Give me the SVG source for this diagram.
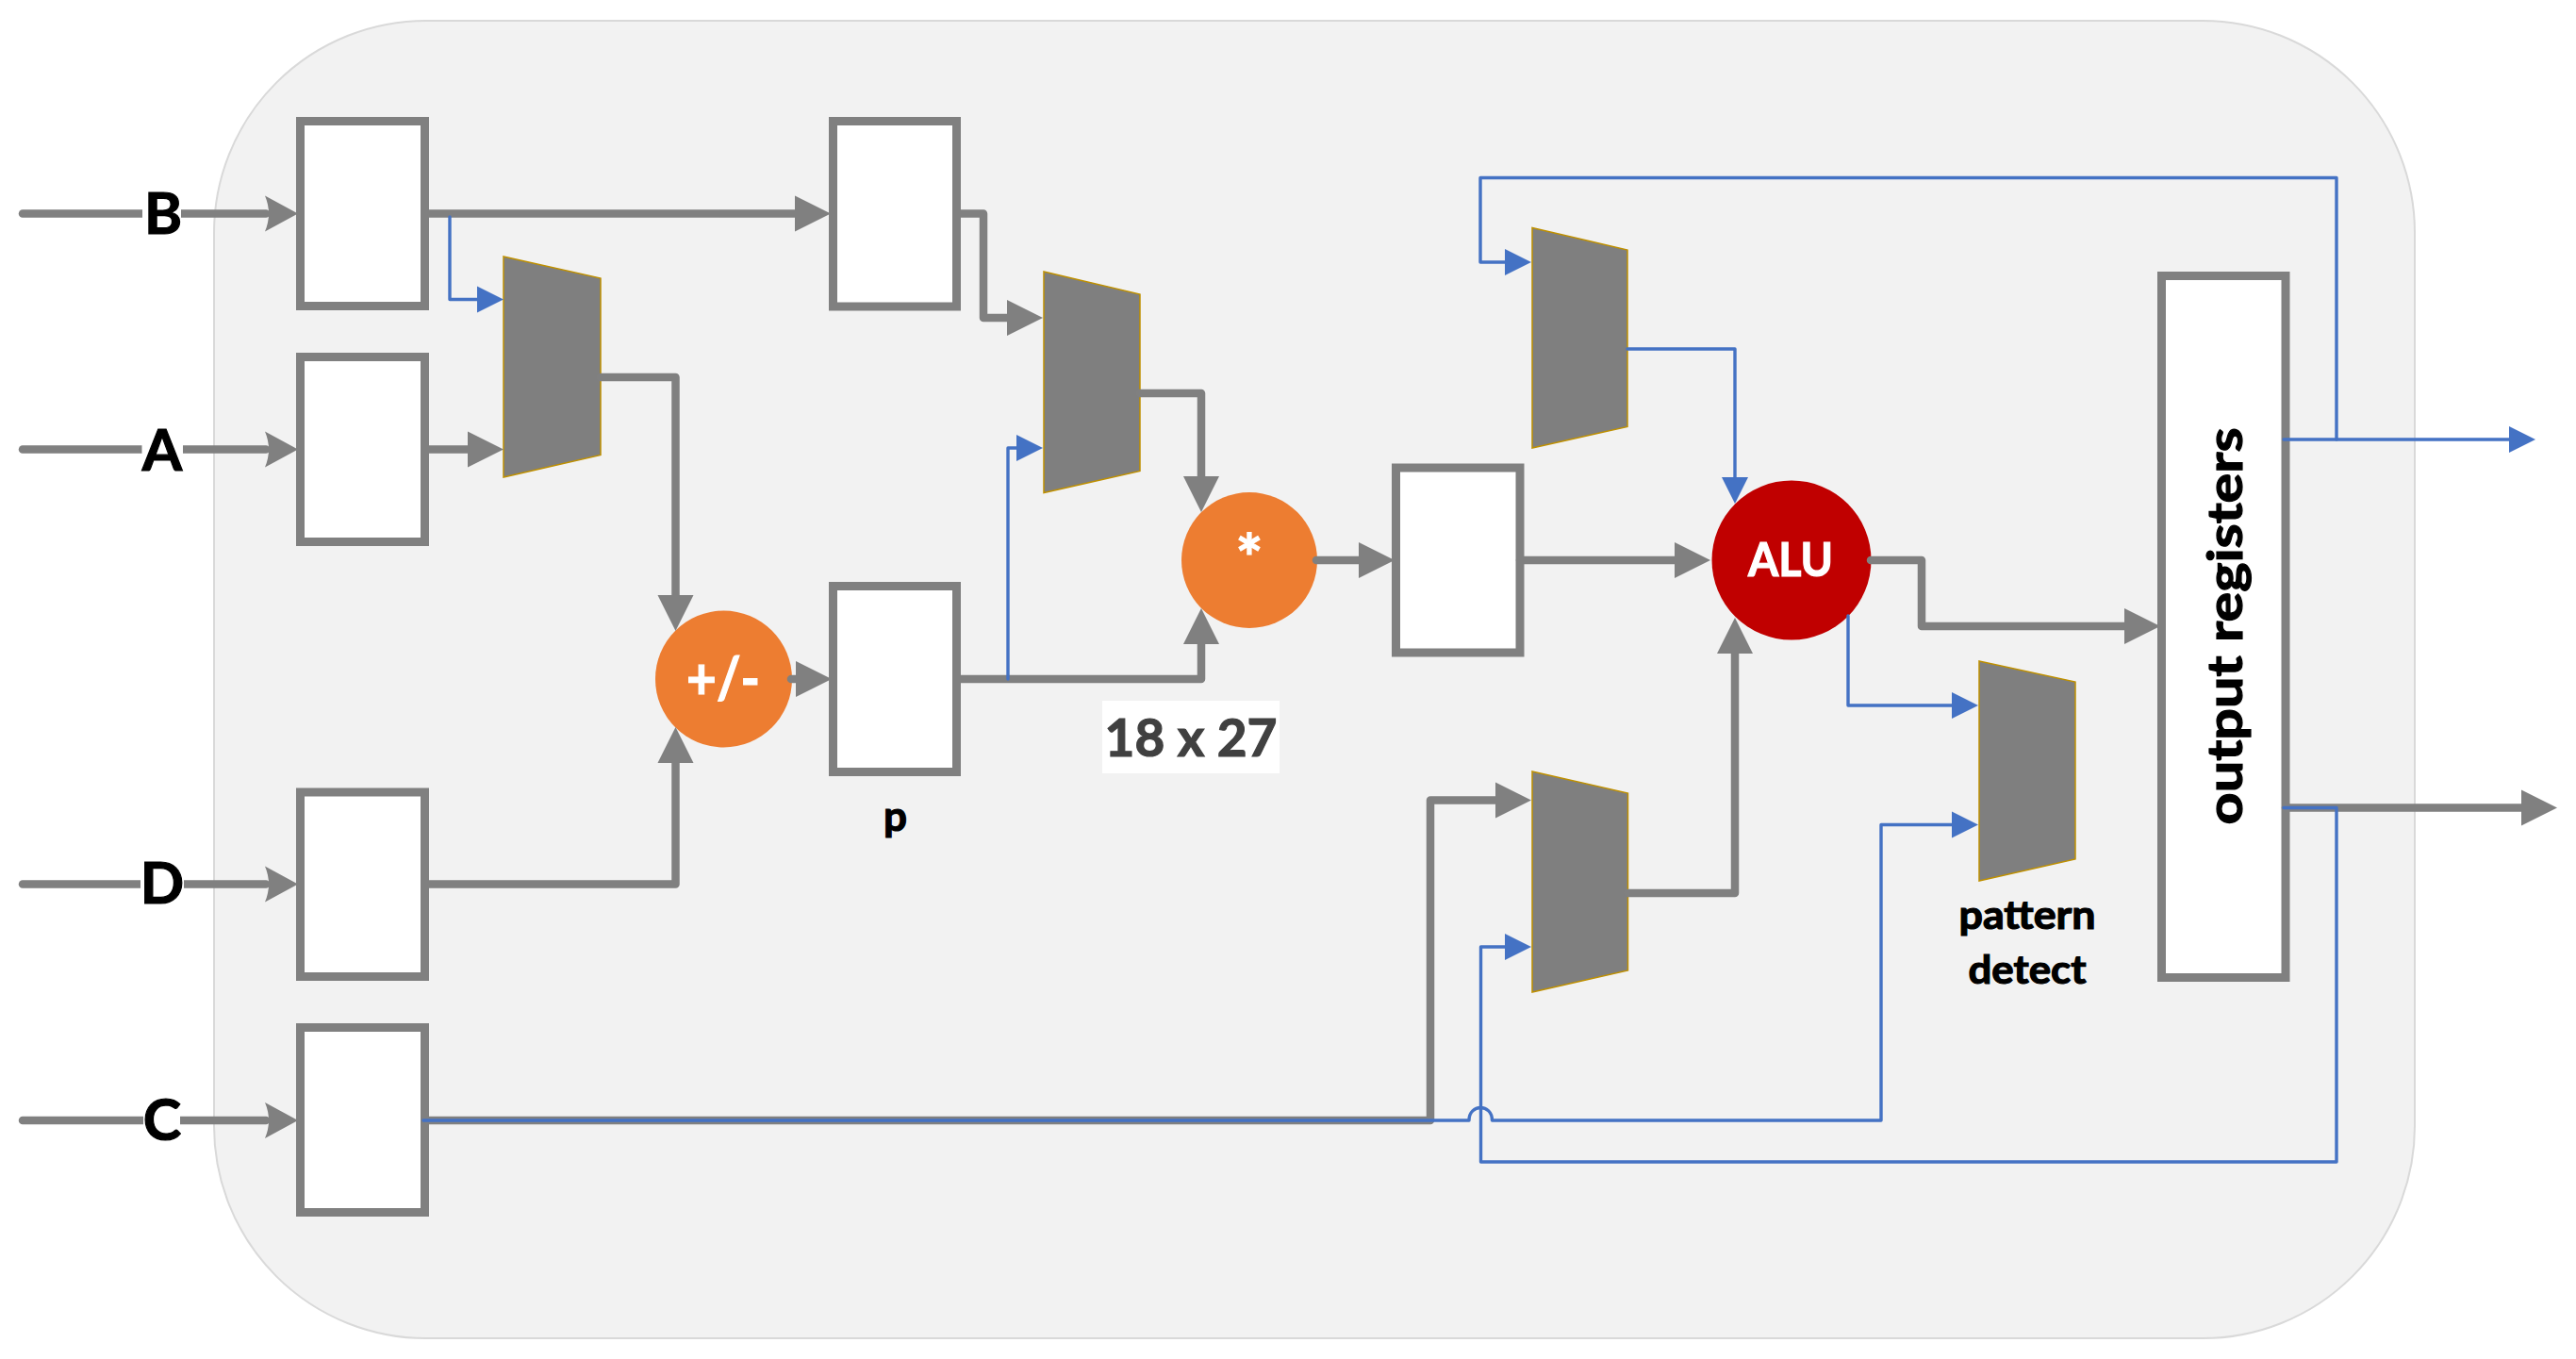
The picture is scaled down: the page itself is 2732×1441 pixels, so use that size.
<svg xmlns="http://www.w3.org/2000/svg" width="2732" height="1441" viewBox="0 0 2732 1441">
<style>
text{font-family:"Lato","Carlito","Liberation Sans",sans-serif;font-weight:700;fill:#000;stroke:#000;stroke-width:1.2;text-anchor:middle}
text.white{fill:#fff;stroke:#fff}
text.dark{fill:#404040;stroke:#404040}
.reg{fill:#fff;stroke:#808080;stroke-width:9}
.mux{fill:#7f7f7f;stroke:#bf9000;stroke-width:1.5}
.g{fill:none;stroke:#808080;stroke-width:8.5;stroke-linejoin:round;stroke-linecap:round}
.gm{marker-end:url(#ag)}
.gi{marker-end:url(#ai)}
.b{fill:none;stroke:#4472c4;stroke-width:3.4;stroke-linejoin:round;stroke-linecap:round}
.bm{marker-end:url(#ab)}
.op{fill:#ed7d31}
.gap{fill:#fff}
.in{font-size:61px}
</style>
<defs>
<marker id="ag" markerUnits="userSpaceOnUse" markerWidth="40" markerHeight="40" refX="1" refY="20" orient="auto" viewBox="0 0 40 40"><path d="M0,1 L38,20 L0,39z" fill="#808080"/></marker>
<marker id="ai" markerUnits="userSpaceOnUse" markerWidth="40" markerHeight="40" refX="1" refY="20" orient="auto" viewBox="0 0 40 40"><path d="M0,1 L35,20 L0,39 Q8,20 0,1z" fill="#808080"/></marker>
<marker id="ab" markerUnits="userSpaceOnUse" markerWidth="30" markerHeight="30" refX="1" refY="15" orient="auto" viewBox="0 0 30 30"><path d="M0,1 L28,15 L0,29z" fill="#4472c4"/></marker>
</defs>
<rect id="panel" x="227" y="22" width="2334" height="1397" rx="225" ry="225" fill="#f2f2f2" stroke="#d9d9d9" stroke-width="2"/>
<g id="reg-B"><rect class="reg" x="318.5" y="128.5" width="132" height="196"/></g>
<g id="reg-A"><rect class="reg" x="318.5" y="378.5" width="132" height="196"/></g>
<g id="reg-D"><rect class="reg" x="318.5" y="840" width="132" height="195.5"/></g>
<g id="reg-C"><rect class="reg" x="318.5" y="1089.5" width="132" height="196"/></g>
<g id="reg-B2"><rect class="reg" x="883.5" y="128.5" width="131" height="196.5"/></g>
<g id="reg-P"><rect class="reg" x="883.5" y="621.5" width="131" height="197"/></g>
<g id="reg-M"><rect class="reg" x="1480.5" y="496" width="131.5" height="196"/></g>
<g id="mux-1"><path class="mux" d="M534,272 L637,295 V482.5 L534,506z"/></g>
<g id="mux-2"><path class="mux" d="M1107,288 L1209,312 V499.5 L1107,522.5z"/></g>
<g id="mux-3"><path class="mux" d="M1625,241.5 L1726,265 V452.5 L1625,475z"/></g>
<g id="mux-4"><path class="mux" d="M1625,818 L1726.5,841 V1029 L1625,1052z"/></g>
<g id="mux-5"><path class="mux" d="M2099,701 L2201,723 V911 L2099,934z"/></g>
<g id="adder"><circle class="op" cx="767.5" cy="720" r="72.5"/><text class="white" x="767" y="741" font-size="62" textLength="78" lengthAdjust="spacingAndGlyphs">+/-</text></g>
<g id="multiplier"><circle class="op" cx="1325" cy="594" r="72"/><text class="white" x="1325" y="617" font-size="68">*</text></g>
<g id="alu"><circle cx="1900" cy="594" r="84.5" fill="#c00000"/><text class="white" x="1899" y="611" font-size="50" textLength="90" lengthAdjust="spacingAndGlyphs">ALU</text></g>
<g id="output-registers"><rect class="reg" x="2292.5" y="292.5" width="131.5" height="744"/><text x="0" y="0" transform="translate(2378,664) rotate(-90)" font-size="52" textLength="421" lengthAdjust="spacingAndGlyphs">output registers</text></g>
<g id="connectors">
<path class="g gi" d="M24,226.5 H282"/>
<path class="g gi" d="M24,476.5 H282"/>
<path class="g gi" d="M24,937.5 H282"/>
<path class="g gi" d="M24,1188 H282"/>
<path class="g gm" d="M453,226.5 H844"/>
<path class="g gm" d="M453,476.5 H497"/>
<path class="g gm" d="M637,400 H716.5 V632"/>
<path class="g gm" d="M453,937.5 H716.5 V808"/>
<path class="g gm" d="M839,720 H845"/>
<path class="g gm" d="M1015,226.5 H1043 V337 H1069"/>
<path class="g gm" d="M1209,417 H1274 V506"/>
<path class="g gm" d="M1015,720 H1274 V682"/>
<path class="g gm" d="M1396,594 H1442"/>
<path class="g gm" d="M1612,594 H1777"/>
<path class="g gm" d="M1984,594 H2038 V664 H2254"/>
<path class="g gm" d="M453,1188 H1517 V848.5 H1587"/>
<path class="g gm" d="M1726.5,947 H1840 V692"/>
<path class="g gm" d="M2424,856.5 H2675"/>
<path class="b bm" d="M477,230 V317.5 H507"/>
<path class="b bm" d="M1069,720 V475 H1079"/>
<path class="b bm" d="M2422,466 H2662"/>
<path class="b bm" d="M2478,466 V188.5 H1570 V278 H1597"/>
<path class="b bm" d="M1726,370 H1840 V507"/>
<path class="b bm" d="M1960,653 V748 H2071"/>
<path class="b bm" d="M2422,856.5 H2478 V1232 H1570.5 V1004 H1597"/>
<path class="b bm" d="M449,1188 H1558 C1558,1170 1582.5,1170 1582.5,1188 H1995 V874.5 H2071"/>
</g>
<g id="label-B"><rect class="gap" x="151" y="215" width="41" height="24"/><text class="in" x="173" y="248">B</text></g>
<g id="label-A"><rect class="gap" x="150.5" y="465" width="43.5" height="24"/><text class="in" x="172" y="498.5">A</text></g>
<g id="label-D"><rect class="gap" x="149" y="926" width="46" height="24"/><text class="in" x="172" y="958">D</text></g>
<g id="label-C"><rect class="gap" x="152" y="1176" width="39" height="24"/><text class="in" x="172" y="1209">C</text></g>
<g id="label-size"><rect class="gap" x="1169" y="743" width="188" height="77"/><text class="dark" x="1263" y="801.5" font-size="56" textLength="183" lengthAdjust="spacingAndGlyphs">18 x 27</text></g>
<g id="label-p"><text x="949.5" y="881" font-size="44">p</text></g>
<g id="label-pattern"><text x="2150" y="985" font-size="42" textLength="145" lengthAdjust="spacingAndGlyphs">pattern</text><text x="2150" y="1042.5" font-size="42" textLength="125" lengthAdjust="spacingAndGlyphs">detect</text></g>
</svg>
